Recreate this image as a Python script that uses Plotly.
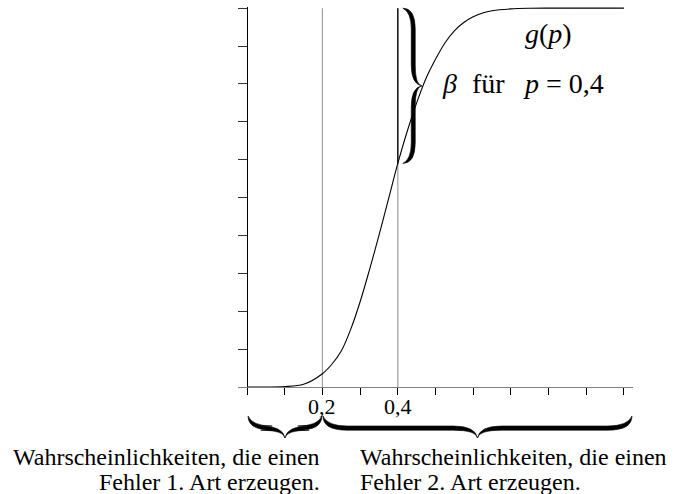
import plotly.graph_objects as go

# ---- data ----
p_vals = [0.0, 0.05, 0.10, 0.15, 0.20, 0.225, 0.25, 0.275, 0.30, 0.325, 0.35, 0.375,
          0.40, 0.425, 0.45, 0.475, 0.50, 0.525, 0.55, 0.575, 0.60, 0.625, 0.65,
          0.70, 0.75, 0.80, 0.90, 1.00]
g_vals = [0.0, 0.0001, 0.001, 0.007, 0.035, 0.06, 0.095, 0.152, 0.225, 0.31, 0.40, 0.495,
          0.59, 0.675, 0.75, 0.815, 0.865, 0.908, 0.94, 0.962, 0.977, 0.987, 0.993,
          0.998, 0.9996, 1.0, 1.0, 1.0]
alpha_p = 0.2        # boundary for error of 1st kind
beta_p = 0.4         # p where beta is shown
x_tick_vals = [0.0, 0.1, 0.2, 0.3, 0.4, 0.5, 0.6, 0.7, 0.8, 0.9, 1.0]
x_tick_text = ["", "", "0,2", "", "0,4", "", "", "", "", "", ""]
y_tick_vals = [0.0, 0.1, 0.2, 0.3, 0.4, 0.5, 0.6, 0.7, 0.8, 0.9, 1.0]
label_g = "<i>g</i>(<i>p</i>)"
label_beta_parts = ["<i>β</i>", "für", "<i>p</i> = 0,4"]
text_left = ["Wahrscheinlichkeiten, die einen", "Fehler 1.\u2009Art erzeugen."]
text_right = ["Wahrscheinlichkeiten, die einen", "Fehler 2.\u2009Art erzeugen."]

# ---- layout geometry ----
W, H = 680, 494
ML, MR, MT, MB = 238, 47, 7, 107
PW, PH = W - ML - MR, H - MT - MB
XR = [-0.024, 1.024]
YR = [0.0, 1.003]
FONT = "Liberation Serif"


def xpx(v):
    return ML + (v - XR[0]) / (XR[1] - XR[0]) * PW


def ypx(v):
    return MT + PH - (v - YR[0]) / (YR[1] - YR[0]) * PH


def xdat(px):
    return XR[0] + (px - ML) / PW * (XR[1] - XR[0])


def ydat(py):
    return YR[0] + (MT + PH - py) / PH * (YR[1] - YR[0])


def xpap(px):
    return (px - ML) / PW


def ypap(py):
    return (MT + PH - py) / PH


def g_at(p):
    for i in range(len(p_vals) - 1):
        if p_vals[i] <= p <= p_vals[i + 1]:
            t = (p - p_vals[i]) / (p_vals[i + 1] - p_vals[i])
            return g_vals[i] + t * (g_vals[i + 1] - g_vals[i])
    return g_vals[-1]


def brace(a, b, base, depth, t=1.9, horizontal=True):
    """Filled curly brace. a..b along its length (px), base = position of the
    ends (px), depth = distance to the tip (px)."""
    m = (a + b) / 2.0
    bar = base + depth * 0.55
    tip = base + depth
    s = 1 if depth > 0 else -1
    r = abs(depth) * 1.1
    o = bar + s * t
    i = bar - s * t
    pts = [
        ("M", [(a, base)]),
        ("Q", [(a, o), (a + r, o)]),
        ("L", [(m - r, o)]),
        ("Q", [(m - t * 0.5, o), (m, tip)]),
        ("Q", [(m + t * 0.5, o), (m + r, o)]),
        ("L", [(b - r, o)]),
        ("Q", [(b, o), (b, base)]),
        ("Q", [(b - 2 * t, i), (b - r, i)]),
        ("L", [(m + r, i)]),
        ("Q", [(m + t, i), (m, tip)]),
        ("Q", [(m - t, i), (m - r, i)]),
        ("L", [(a + r, i)]),
        ("Q", [(a + 2 * t, i), (a, base)]),
    ]
    out = []
    for cmd, cs in pts:
        seg = cmd
        for (u, v) in cs:
            px, py = (u, v) if horizontal else (v, u)
            seg += " %.5f,%.5f" % (xpap(px), ypap(py))
        out.append(seg)
    return " ".join(out) + " Z"


fig = go.Figure()

for pv in (alpha_p, beta_p):
    fig.add_trace(go.Scatter(x=[pv, pv], y=[0, 1], mode="lines",
                             line=dict(color="#a0a0a0", width=1.2),
                             hoverinfo="skip", showlegend=False))
g04 = g_at(beta_p)
fig.add_trace(go.Scatter(x=[beta_p, beta_p], y=[g04, 1], mode="lines",
                         line=dict(color="black", width=1.3),
                         hoverinfo="skip", showlegend=False))
fig.add_trace(go.Scatter(x=p_vals, y=g_vals, mode="lines",
                         line=dict(color="black", width=1.1, shape="spline", smoothing=0.9),
                         hoverinfo="skip", showlegend=False))

shapes = []
shapes.append(dict(type="path", xref="paper", yref="paper",
                   path=brace(ypx(1.0), ypx(g04), xpx(beta_p) + 5, 19, t=2.0, horizontal=False),
                   fillcolor="black", line=dict(color="black", width=0.6)))
yb = ypx(0) + 29
shapes.append(dict(type="path", xref="paper", yref="paper",
                   path=brace(xpx(0) + 1, xpx(alpha_p) - 0.5, yb, 22, t=2.1),
                   fillcolor="black", line=dict(color="black", width=0.6)))
shapes.append(dict(type="path", xref="paper", yref="paper",
                   path=brace(xpx(alpha_p) + 0.5, xpx(XR[1]) - 1, yb, 22, t=2.1),
                   fillcolor="black", line=dict(color="black", width=0.6)))

annotations = [
    dict(x=xdat(548), y=ydat(33), xref="x", yref="y", text=label_g, showarrow=False,
         font=dict(family=FONT, size=28, color="black")),
]
for px, part in zip([440, 470, 521], label_beta_parts):
    annotations.append(dict(x=xdat(px), y=ydat(83), xref="x", yref="y", text=part,
                            showarrow=False, xanchor="left",
                            font=dict(family=FONT, size=28, color="black")))
# tick labels
for tv, tt in zip(x_tick_vals, x_tick_text):
    if tt:
        annotations.append(dict(x=tv, y=ypap(406), xref="x", yref="paper", text=tt,
                                showarrow=False, xanchor="center", yanchor="middle",
                                font=dict(family=FONT, size=22, color="black")))
for k, (tl, tr) in enumerate(zip(text_left, text_right)):
    yy = ypap(457 + 25 * k)
    annotations.append(dict(x=alpha_p, y=yy, xref="x", yref="paper", text=tl,
                            showarrow=False, xanchor="right", yanchor="middle",
                            font=dict(family=FONT, size=24, color="black")))
    annotations.append(dict(x=xdat(358), y=yy, xref="x", yref="paper", text=tr,
                            showarrow=False, xanchor="left", yanchor="middle",
                            font=dict(family=FONT, size=24, color="black")))

fig.update_layout(
    width=W, height=H,
    margin=dict(l=ML, r=MR, t=MT, b=MB, pad=0),
    paper_bgcolor="white", plot_bgcolor="white",
    shapes=shapes, annotations=annotations,
    showlegend=False,
    xaxis=dict(range=XR, showgrid=False, zeroline=True, zerolinecolor="black",
               zerolinewidth=1.2, showline=True, linecolor="#808080", linewidth=1.2,
               ticks="outside", ticklen=7, tickwidth=1, tickcolor="black",
               tickvals=x_tick_vals, showticklabels=False, fixedrange=True),
    yaxis=dict(range=YR, showgrid=False, zeroline=False, showline=False,
               ticks="inside", ticklen=9, tickwidth=1, tickcolor="#333333",
               tickvals=y_tick_vals, showticklabels=False, fixedrange=True),
)

fig.write_html("out.html", config={"displayModeBar": False},
               post_script="document.body.style.margin='0px';")
